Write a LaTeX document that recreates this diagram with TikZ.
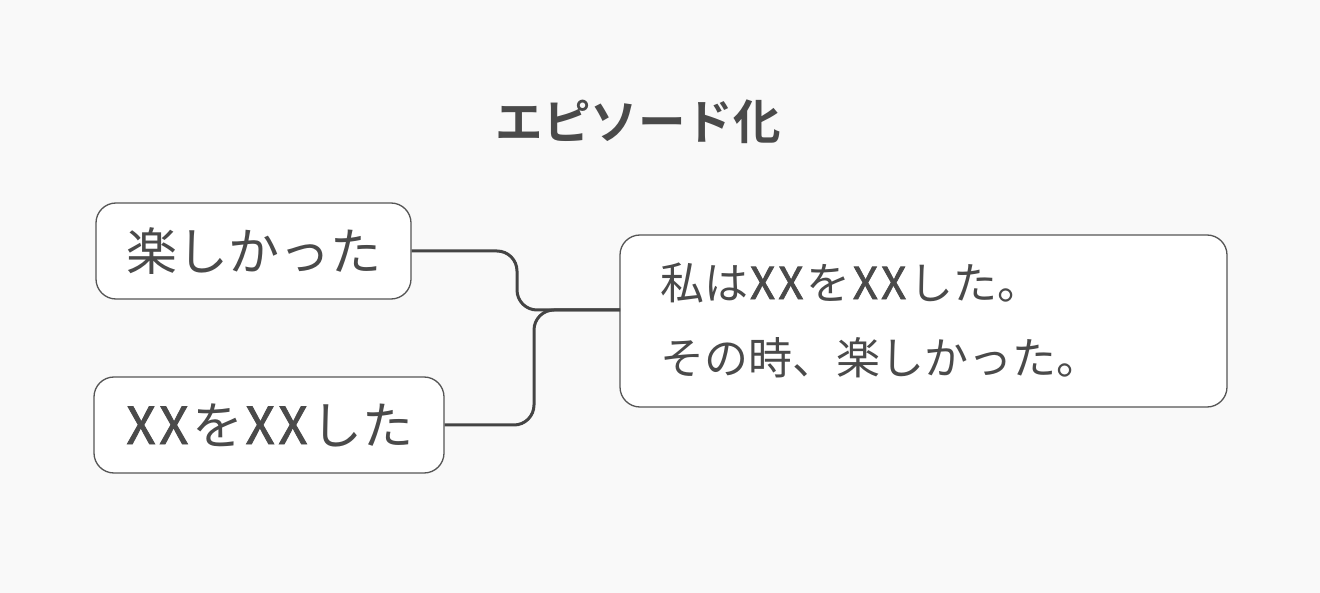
\documentclass[tikz,border=0pt]{standalone}
\usepackage{fontspec}
\setmainfont{Noto Sans CJK JP}
\newfontfamily\jpbold{Noto Sans CJK JP Bold}
\newfontfamily\xbf[FakeBold=1.6]{Noto Sans CJK JP}
\newcommand\xxmark{\kern0.04em{\xbf X\kern0.07em X}\kern0.08em}
\definecolor{bg}{HTML}{F9F9F9}
\definecolor{ink}{HTML}{4A4A4A}
\definecolor{edge}{HTML}{555555}
\definecolor{wire}{HTML}{444444}
\begin{document}
\begin{tikzpicture}[x=1pt,y=-1pt,
  box/.style={draw=edge,line width=1.3pt,fill=white,rounded corners=20pt,inner sep=0pt},
  lbl/.style={text=ink,font=\fontsize{51}{74}\selectfont,inner sep=0pt},
  lbltwo/.style={text=ink,font=\fontsize{44}{75}\selectfont,inner sep=0pt},
  conn/.style={draw=wire,line width=3pt,rounded corners=20pt}]
\fill[bg] (0,0) rectangle (1320,593);
\useasboundingbox (0,0) rectangle (1320,593);
\node[text=ink,font=\jpbold\fontsize{47.5}{50}\selectfont,inner sep=0pt] (title) at (638,122) {エピソード化};
\node[box,minimum width=315pt,minimum height=96pt] (b1) at (253.5,251) {};
\node[lbl] (t1) at (b1.center) {楽しかった};
\node[box,minimum width=350pt,minimum height=96pt] (b2) at (269,425) {};
\node[lbl] (t2) at (b2.center) {\xxmark を\xxmark した};
\node[box,minimum width=607pt,minimum height=172pt] (b3) at (923.5,321) {};
\node[lbltwo,anchor=west,align=left] (t3) at (660,320) {私は\xxmark を\xxmark した。\\その時、楽しかった。};
\coordinate (in3) at (620,310);
\draw[conn] (b1.east) -- (517,251) -- (517,310) -- (in3);
\draw[conn] (b2.east) -- (534,425) -- (534,310) -- (in3);
\end{tikzpicture}
\end{document}
